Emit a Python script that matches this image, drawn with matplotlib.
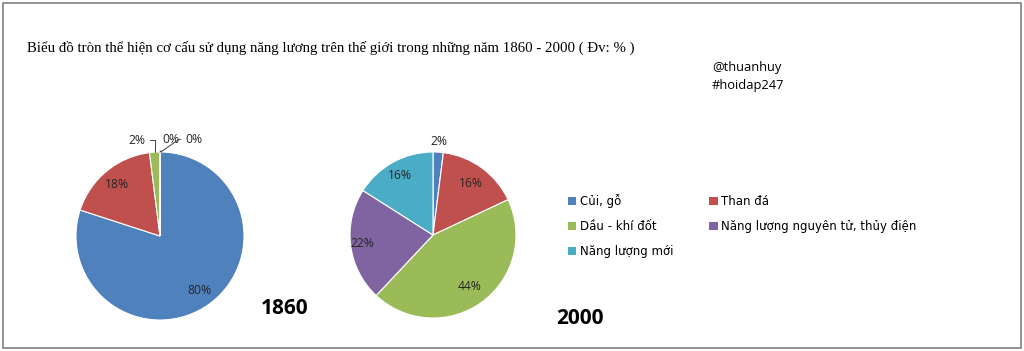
import matplotlib.pyplot as plt
from matplotlib.patches import Rectangle
import numpy as np

W, H = 1024, 351

categories = ["Củi, gỗ", "Than đá", "Dầu - khí đốt",
              "Năng lượng nguyên tử, thủy điện", "Năng lượng mới"]
values_1860 = [80, 18, 2, 0, 0]
values_2000 = [2, 16, 44, 22, 16]
labels_1860 = ["80%", "18%", "2%", "0%", "0%"]
labels_2000 = ["2%", "16%", "44%", "22%", "16%"]
colors = ["#4F81BD", "#C0504D", "#9BBB59", "#8064A2", "#4BACC6"]

title = "Biểu đồ tròn thể hiện cơ cấu sử dụng năng lương trên thế giới trong những năm 1860 - 2000 ( Đv: % )"

fig = plt.figure(figsize=(W / 100, H / 100), dpi=100)

def px_axes(cx, cy, r):
    # axes box in pixel coords (origin top-left), square
    return fig.add_axes([(cx - r) / W, (H - cy - r) / H, 2 * r / W, 2 * r / H])

def mid_angles(vals):
    tot = float(sum(vals))
    ang = 90.0
    mids = []
    for v in vals:
        sweep = 360.0 * v / tot
        mids.append(ang - sweep / 2)
        ang -= sweep
    return np.radians(mids)

pct_font = dict(family="Open Sans", fontsize=8.7, color="#262626")
leader = dict(arrowstyle="-", color="#404040", lw=0.7)

# 1860
ax1 = px_axes(160, 236, 84)
ax1.pie(values_1860, colors=colors, startangle=90, counterclock=False,
        wedgeprops=dict(edgecolor="white", linewidth=0.8))
ax1.set_xlim(-1, 1); ax1.set_ylim(-1, 1); ax1.axis("off")
m1 = mid_angles(values_1860)
for i in (0, 1):
    d = 0.8
    ax1.text(d * np.cos(m1[i]), d * np.sin(m1[i]), labels_1860[i],
             ha="center", va="center", **pct_font)
# small slices with leader lines
ax1.annotate(labels_1860[2], xy=(np.cos(m1[2]), np.sin(m1[2])), xytext=(-0.27, 1.14),
             ha="center", va="center", annotation_clip=False, **pct_font,
             arrowprops=dict(**leader, connectionstyle="angle,angleA=0,angleB=90,rad=0",
                             shrinkA=1, shrinkB=0))
ax1.annotate(labels_1860[3], xy=(0.0, 1.0), xytext=(0.13, 1.15),
             ha="center", va="center", annotation_clip=False, **pct_font,
             arrowprops=dict(**leader, shrinkA=2, shrinkB=0))
ax1.annotate(labels_1860[4], xy=(0.01, 1.0), xytext=(0.40, 1.15),
             ha="center", va="center", annotation_clip=False, **pct_font,
             arrowprops=dict(**leader, connectionstyle="angle,angleA=0,angleB=35,rad=0",
                             shrinkA=1, shrinkB=0))

# 2000
ax2 = px_axes(433, 235, 83)
wedges, _ = ax2.pie(values_2000, colors=colors, startangle=90, counterclock=False,
                    wedgeprops=dict(edgecolor="white", linewidth=0.8))
ax2.set_xlim(-1, 1); ax2.set_ylim(-1, 1); ax2.axis("off")
m2 = mid_angles(values_2000)
dists = [1.13, 0.77, 0.76, 0.86, 0.82]
for i in range(5):
    ax2.text(dists[i] * np.cos(m2[i]), dists[i] * np.sin(m2[i]), labels_2000[i],
             ha="center", va="center", **pct_font)

# year labels
fig.text(285 / W, 1 - 308 / H, "1860", family="Open Sans", fontweight="bold",
         fontsize=15, ha="center", va="center", color="black")
fig.text(580 / W, 1 - 318 / H, "2000", family="Open Sans", fontweight="bold",
         fontsize=15, ha="center", va="center", color="black")

# title and tags
fig.text(27 / W, 1 - 48 / H, title, family="Liberation Serif", fontsize=10.7,
         ha="left", va="center", color="black")
fig.text(712 / W, 1 - 68 / H, "@thuanhuy", family="Open Sans", fontsize=9.3,
         ha="left", va="center", color="black")
fig.text(712 / W, 1 - 86 / H, "#hoidap247", family="Open Sans", fontsize=9.3,
         ha="left", va="center", color="black")

# legend, row-major order like the reference
order = [0, 2, 4, 1, 3]
leg = fig.legend([wedges[i] for i in order], [categories[i] for i in order],
                 ncol=2, loc="upper left", bbox_to_anchor=(568 / W, 1 - 194 / H),
                 frameon=False, prop=dict(family="DejaVu Sans", size=8.5),
                 handlelength=0.7, handleheight=0.7, handletextpad=0.3,
                 columnspacing=3.05, labelspacing=1.02, borderpad=0, borderaxespad=0)
for h in leg.legend_handles:
    h.set_edgecolor("none")

# chart border
fig.patches.append(Rectangle((3 / W, 3 / H), 1018 / W, 345 / H, transform=fig.transFigure,
                             fill=False, edgecolor="#808080", linewidth=1.2))

fig.savefig("out.png", dpi=100, facecolor="white")
